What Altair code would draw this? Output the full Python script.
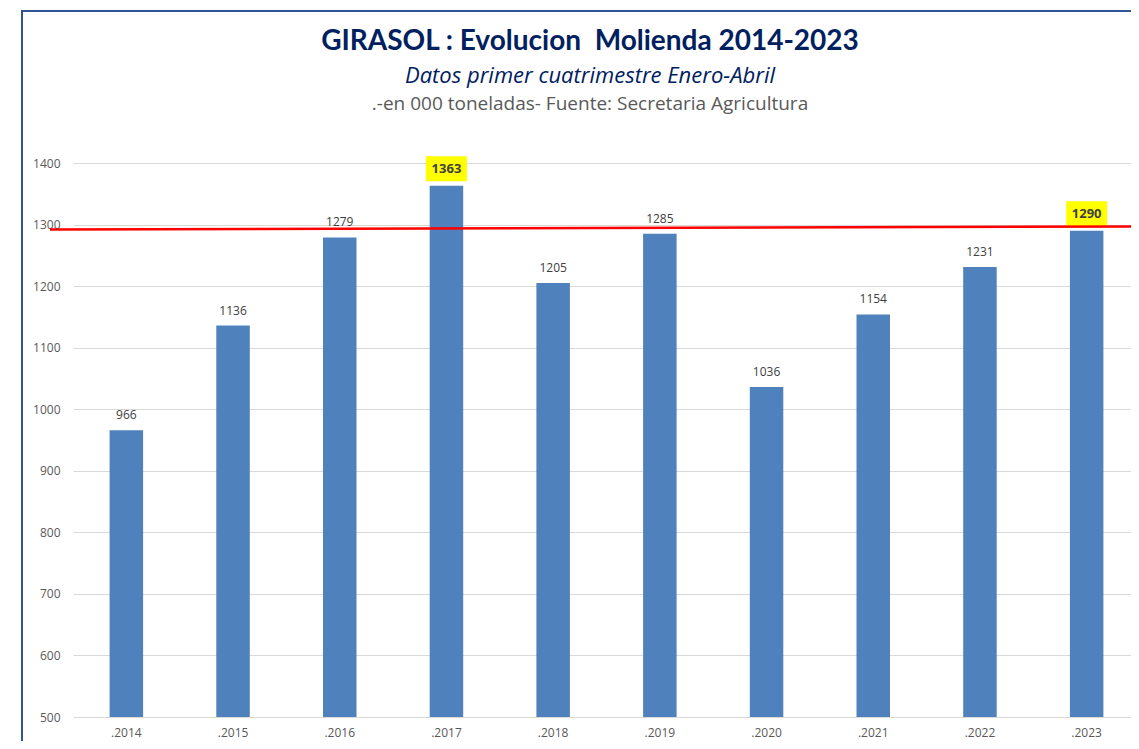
import altair as alt
import pandas as pd

# ---- data ----
years = [".2014", ".2015", ".2016", ".2017", ".2018", ".2019", ".2020", ".2021", ".2022", ".2023"]
values = [966, 1136, 1279, 1363, 1205, 1285, 1036, 1154, 1231, 1290]
highlight_years = [".2017", ".2023"]
y_ticks = [500, 600, 700, 800, 900, 1000, 1100, 1200, 1300, 1400]
red_line_values = [1292, 1297]  # left / right end of the red reference line

title_text = "GIRASOL : Evolucion\u00a0 Molienda 2014-2023"
subtitle_text = "Datos primer cuatrimestre Enero-Abril"
source_text = ".-en 000 toneladas- Fuente: Secretaria Agricultura"

df = pd.DataFrame({
    "year": years,
    "value": values,
    "hl": [y in highlight_years for y in years],
})

W, H = 1058, 554
X_SPAN = 1067  # band range runs slightly past the visible right edge, as in the original
FONT = "Open Sans"
LABEL_COLOR = "#595959"

x_enc = alt.X(
    "year:N", sort=years,
    scale=alt.Scale(range=[0, X_SPAN], paddingInner=0.686, paddingOuter=0.343),
    axis=alt.Axis(title=None, labelAngle=0, ticks=False, domain=False,
                  labelPadding=10, labelFontSize=12, labelColor=LABEL_COLOR,
                  labelFont=FONT, grid=False),
)
y_scale = alt.Scale(domain=[500, 1400], nice=False, zero=False)
y_enc = alt.Y(
    "value:Q", scale=y_scale,
    axis=alt.Axis(title=None, values=y_ticks, format="d", ticks=False, domain=False,
                  grid=True, gridColor="#d9d9d9", gridWidth=1.2,
                  labelPadding=13, labelFontSize=12, labelColor=LABEL_COLOR,
                  labelFont=FONT),
)

base = alt.Chart(df)

bars = base.mark_bar(color="#4F81BD", clip=True).encode(x=x_enc, y=y_enc)

labels = base.transform_filter("!datum.hl").mark_text(
    dy=-15, fontSize=12, color="#404040", font=FONT, baseline="middle"
).encode(x=x_enc, y=y_enc, text="value:Q")

boxes = base.transform_filter("datum.hl").mark_point(
    shape="M-1,-0.61L1,-0.61L1,0.61L-1,0.61Z", size=1681, filled=True,
    fill="#FFFF00", opacity=1, strokeWidth=0, yOffset=-17
).encode(x=x_enc, y=y_enc)

red_line = alt.Chart(alt.Data(values=[{"r": 1}])).mark_rule(color="#FF0000", strokeWidth=2.5).encode(
    x=alt.value(-23), x2=alt.value(X_SPAN),
    y=alt.datum(red_line_values[0]), y2=alt.datum(red_line_values[1]),
)

hl_labels = base.transform_filter("datum.hl").mark_text(
    dy=-17, fontSize=13, fontWeight="bold", color="#404040", font=FONT, baseline="middle"
).encode(x=x_enc, y=y_enc, text="value:Q")

frame = alt.Chart(alt.Data(values=[{"f": 1}])).mark_rect(
    fillOpacity=0, stroke="#2F5597", strokeWidth=2
).encode(x=alt.value(-51), x2=alt.value(W + 60), y=alt.value(-152), y2=alt.value(H + 80))

t1 = alt.Chart(alt.Data(values=[{"t": title_text}])).mark_text(
    fontSize=28, fontWeight="bold", color="#002060", font="Lato", baseline="middle", align="center"
).encode(x=alt.value(517), y=alt.value(-121), text="t:N")

t2 = alt.Chart(alt.Data(values=[{"t": subtitle_text}])).mark_text(
    fontSize=22, fontStyle="italic", color="#002060", font=FONT, baseline="middle", align="center"
).encode(x=alt.value(517), y=alt.value(-87), text="t:N")

t3 = alt.Chart(alt.Data(values=[{"t": source_text}])).mark_text(
    fontSize=19, color=LABEL_COLOR, font=FONT, baseline="middle", align="center"
).encode(x=alt.value(517), y=alt.value(-59), text="t:N")

chart = alt.layer(frame, bars, labels, boxes, red_line, hl_labels, t1, t2, t3).properties(
    width=W, height=H,
    autosize=alt.AutoSizeParams(type="none"),
    padding={"left": 65, "top": 155, "right": 0, "bottom": 24},
    background="white",
).configure_view(stroke=None)

chart.save("out.html", embed_options={"renderer": "svg", "actions": False})
